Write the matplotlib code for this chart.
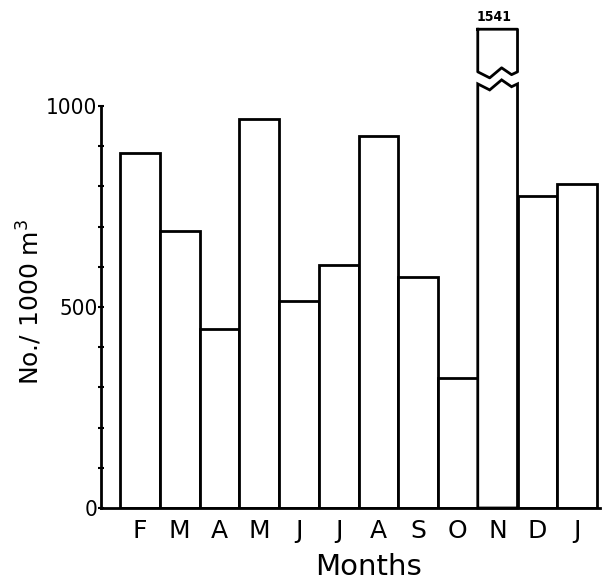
import matplotlib
matplotlib.use('Agg')
import matplotlib.pyplot as plt
import numpy as np

months = ['F', 'M', 'A', 'M', 'J', 'J', 'A', 'S', 'O', 'N', 'D', 'J']
counts = [883, 688, 445, 968, 515, 604, 925, 575, 323, 1541, 776, 806]
broken_month = 9          # index of the bar that is drawn with a break
y_ticks = [0, 500, 1000]

# layout of the break in the tall bar (axis units)
break_low = 1055          # top of the lower piece
break_high = 1085         # bottom of the upper piece
drawn_top = 1191          # where the broken bar is cut off on the page
wave_x = np.array([0.0, 0.3, 0.6, 0.85, 1.0])
wave_y = np.array([0, -15, 10, -7, 0])

fig = plt.figure(figsize=(6.02, 5.83), dpi=100)
ax = fig.add_axes([101 / 602, 75 / 583, 499 / 602, 508 / 583])

lw = 2.0
x = np.arange(len(months))
normal = [c if i != broken_month else 0 for i, c in enumerate(counts)]
ax.bar(x, normal, width=1.0, color='white', edgecolor='black', linewidth=lw)

# broken bar: lower piece and upper piece with wavy cut
left = x[broken_month] - 0.5
wx = left + wave_x
lower_x = np.concatenate([[left], wx, [left + 1]])
lower_y = np.concatenate([[0], break_low + wave_y, [0]])
ax.fill(lower_x, lower_y, facecolor='white', edgecolor='black', linewidth=lw,
        clip_on=False, zorder=3)
upper_x = np.concatenate([[left], wx, [left + 1, left]])
upper_y = np.concatenate([[drawn_top], break_high + wave_y, [drawn_top, drawn_top]])
ax.plot(upper_x, upper_y, color='black', linewidth=lw, clip_on=False, zorder=3)
ax.text(x[broken_month] - 0.08, drawn_top + 14, str(counts[broken_month]),
        ha='center', va='bottom', fontsize=10, fontweight='bold',
        fontstretch='condensed')

ax.set_xlim(-0.978, 11.575)
ax.set_ylim(0, 1263.7)

for s in ['top', 'right']:
    ax.spines[s].set_visible(False)
ax.spines['left'].set_bounds(0, 1000)
ax.spines['left'].set_linewidth(lw)
ax.spines['bottom'].set_linewidth(lw)

ax.set_yticks(y_ticks)
ax.set_yticks(np.arange(100, 1000, 100), minor=True)
ax.tick_params(axis='y', which='both', direction='inout', length=5, width=1.5, pad=0)
for lab in ax.get_yticklabels():
    lab.set_fontstretch('condensed')
    lab.set_fontsize(16)

ax.set_xticks(x)
ax.set_xticklabels(months, fontsize=18)
ax.tick_params(axis='x', length=0, pad=8)

fig.text(30 / 602, 1 - 302 / 583, 'No./ 1000 m$^{3}$', rotation=90,
         ha='center', va='center', fontsize=18)
fig.text(368 / 602, 1 - 567 / 583, 'Months', ha='center', va='center', fontsize=21)

fig.savefig('out.png', dpi=100)
